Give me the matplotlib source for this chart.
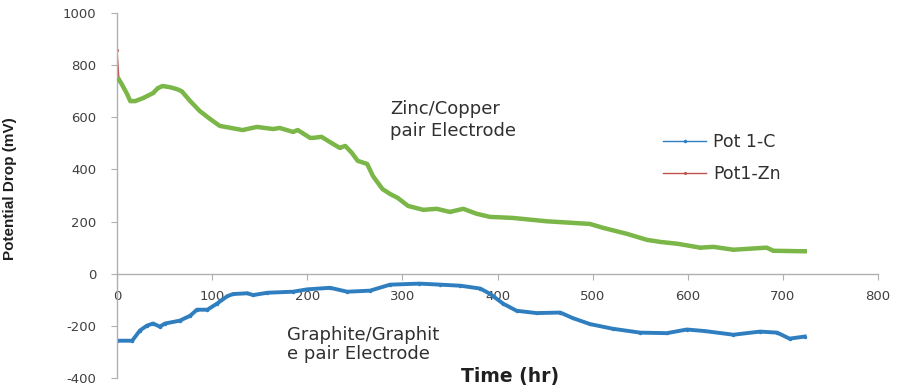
import matplotlib.pyplot as plt

plt.rcParams["axes.unicode_minus"] = False

# Zinc/Copper pair (Pot1-Zn), time in hr, potential drop in mV
zn_time = [0, 2, 5, 10.5, 14, 19, 27, 38, 43, 48, 56, 63, 68, 77, 87, 98, 108,
           126, 132, 147, 164, 171, 185, 190, 203, 206, 215, 227, 234, 240, 247,
           253, 263, 269, 279, 287, 295, 306, 322, 336, 350, 364, 378, 392, 416,
           452, 497, 511, 536, 557, 571, 589, 613, 627, 648, 683, 690, 723]
zn_mv = [860, 745, 727, 690, 662, 662, 673, 693, 712, 720, 715, 708, 700, 662,
         624, 593, 567, 555, 551, 563, 555, 559, 544, 551, 521, 521, 525, 498,
         483, 490, 463, 433, 421, 375, 325, 306, 291, 260, 245, 249, 237, 249,
         230, 218, 214, 201, 191, 176, 153, 130, 122, 115, 100, 103, 92, 100,
         88, 86]

# Graphite/Graphite pair (Pot 1-C)
c_time = [0, 16, 24, 31.5, 38, 45, 50.5, 66, 77, 84, 95, 105, 116, 122, 137,
          143, 158, 185, 200, 224, 242, 266, 287, 318, 340, 361, 382, 392, 406,
          420, 441, 466, 479, 497, 521, 550, 578, 599, 618, 648, 676, 694, 707,
          723]
c_mv = [-257, -257, -218, -199, -191, -203, -191, -180, -161, -138, -138, -115,
        -86, -78, -75, -82, -73, -69, -60, -54, -69, -65, -42, -38, -42, -46,
        -57, -77, -115, -142, -151, -149, -170, -193, -211, -226, -228, -214,
        -220, -234, -222, -226, -249, -241]

x_ticks = [0, 100, 200, 300, 400, 500, 600, 700, 800]
y_ticks = [-400, -200, 0, 200, 400, 600, 800, 1000]

fig = plt.figure(figsize=(9.01, 3.91), dpi=100)
ax = fig.add_axes([117 / 901, 13 / 391, 761 / 901, 365 / 391])

blue = "#2f7ebf"
green = "#7ab648"
red = "#c0504d"

ax.plot(c_time, c_mv, color=blue, lw=2.8, marker="o", ms=1.5, label="Pot 1-C")
ax.plot(zn_time, zn_mv, color=red, lw=1.0, marker="o", ms=1.2, label="Pot1-Zn")
# dense green markers over the red line
ax.plot(zn_time[1:], zn_mv[1:], color=green, lw=3.2, zorder=3)

ax.set_xlim(0, 800)
ax.set_ylim(-400, 1000)
ax.set_xticks(x_ticks)
ax.set_yticks(y_ticks)

for s in ["top", "right"]:
    ax.spines[s].set_visible(False)
ax.spines["bottom"].set_position(("data", 0))
for s in ["left", "bottom"]:
    ax.spines[s].set_color("#b0b0b0")
    ax.spines[s].set_linewidth(1.0)

ax.tick_params(axis="both", colors="#b0b0b0", labelcolor="#404040",
               labelsize=9.5, length=4)
ax.tick_params(axis="x", pad=8)
ax.tick_params(axis="y", pad=11)

ax.set_xlabel("Time (hr)", fontsize=13.5, fontweight="bold", color="#202020")
ax.xaxis.set_label_coords(0.516, 0.03)
ax.set_ylabel("Potential Drop (mV)", fontsize=11, fontweight="bold",
              family=["Liberation Sans Narrow", "Liberation Sans"], color="#202020")
ax.yaxis.set_label_coords(-0.132, 0.52)

ax.text(287, 665, "Zinc/Copper\npair Electrode", fontsize=13, color="#303030",
        va="top", linespacing=1.28)
ax.text(179, -200, "Graphite/Graphit\ne pair Electrode", fontsize=13,
        color="#303030", va="top", linespacing=1.05)

leg = ax.legend(loc="upper left", bbox_to_anchor=(0.7175, 0.672), frameon=False,
                borderaxespad=0, borderpad=0, handlelength=2.5, handletextpad=0.4,
                labelspacing=0.85, fontsize=12.5, labelcolor="#303030")
for h in leg.legend_handles:
    h.set_linewidth(1.0)

fig.savefig("out.png", dpi=100)
